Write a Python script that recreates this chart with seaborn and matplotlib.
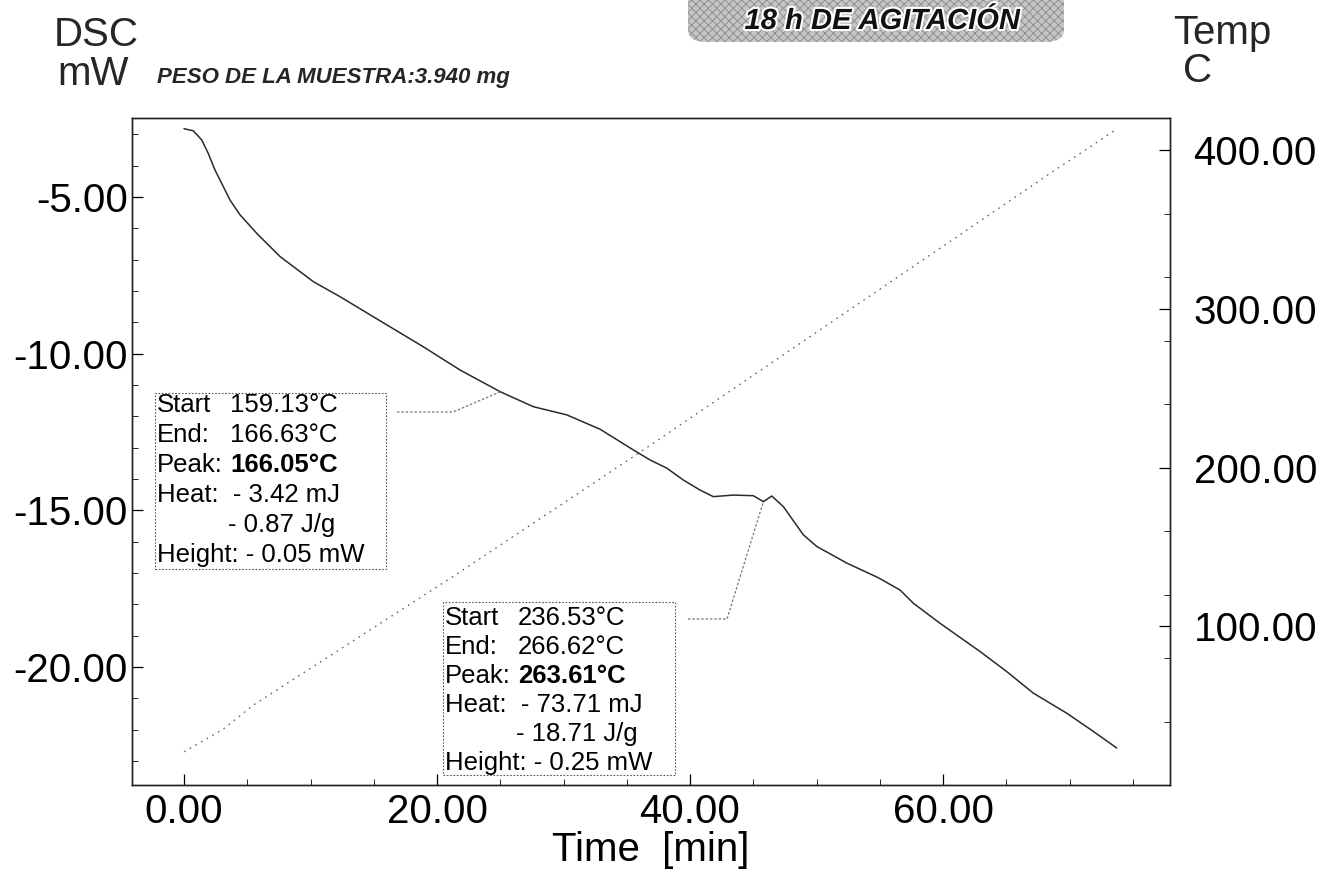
import numpy as np
import pandas as pd
import matplotlib
matplotlib.use("Agg")
import matplotlib.pyplot as plt
import matplotlib.patheffects as pe
from matplotlib.patches import FancyBboxPatch, Rectangle
from matplotlib.ticker import FixedLocator, MultipleLocator
import seaborn as sns

# ---- measured DSC signal (mW) versus time (min) ----
time_dsc = [0.00, 0.74, 1.40, 1.92, 2.45, 2.85, 3.64, 4.43, 5.75, 7.59, 10.22,
            12.33, 14.96, 18.92, 21.82, 24.98, 27.61, 30.25, 32.89, 35.52,
            36.84, 38.16, 39.47, 40.79, 41.84, 43.42, 45.00, 45.80, 46.46,
            47.38, 48.96, 50.02, 52.39, 54.90, 56.60, 57.65, 59.76, 62.92,
            65.03, 67.14, 69.78, 71.88, 73.73]
dsc_mw = [-2.82, -2.89, -3.18, -3.61, -4.14, -4.46, -5.10, -5.57, -6.16, -6.90,
          -7.70, -8.18, -8.82, -9.78, -10.52, -11.21, -11.69, -11.95, -12.41,
          -13.07, -13.39, -13.65, -14.03, -14.35, -14.56, -14.51, -14.53,
          -14.72, -14.54, -14.88, -15.78, -16.15, -16.68, -17.15, -17.54,
          -17.96, -18.60, -19.50, -20.14, -20.83, -21.47, -22.05, -22.58]

# ---- sample temperature (C) versus time (min) ----
time_temp = [0.00, 3.10, 5.48, 21.03, 35.91, 47.91, 68.85, 71.36, 73.73]
temp_c = [20.9, 35.2, 50.3, 130.1, 208.9, 273.9, 387.4, 400.6, 413.2]

# ---- axis ticks ----
x_ticks = [0, 20, 40, 60]
x_tick_labels = ["0.00", "20.00", "40.00", "60.00"]
dsc_ticks = [-5, -10, -15, -20]
dsc_tick_labels = ["-5.00", "-10.00", "-15.00", "-20.00"]
temp_ticks = [100, 200, 300, 400]
temp_tick_labels = ["100.00", "200.00", "300.00", "400.00"]

# ---- peak evaluations ----
peak_times = [25.0, 45.8]
peak_start = ["159.13°C", "236.53°C"]
peak_end = ["166.63°C", "266.62°C"]
peak_peak = ["166.05°C", "263.61°C"]
peak_heat_mj = ["- 3.42 mJ", "- 73.71 mJ"]
peak_heat_jg = ["- 0.87 J/g", "- 18.71 J/g"]
peak_height = ["- 0.05 mW", "- 0.25 mW"]

sample_title = "PESO DE LA MUESTRA:3.940 mg"
banner_title = "18 h DE AGITACIÓN"

sns.set_theme(style="white")
plt.rcParams["font.family"] = ["Liberation Sans", "DejaVu Sans"]
plt.rcParams["hatch.linewidth"] = 0.7

W, H = 1324, 873
fig = plt.figure(figsize=(W / 100, H / 100), dpi=100)
fig.patch.set_facecolor("white")

AX_L, AX_R, AX_T, AX_B = 132, 1170, 118, 785
ax = fig.add_axes([AX_L / W, 1 - AX_B / H, (AX_R - AX_L) / W, (AX_B - AX_T) / H])
ax2 = ax.twinx()

def fx(px):
    return px / W

def fy(py):
    return 1 - py / H

def axx(px):
    return (px - AX_L) / (AX_R - AX_L)

def axy(py):
    return (AX_B - py) / (AX_B - AX_T)

dsc_df = pd.DataFrame({"time": time_dsc, "dsc": dsc_mw})
temp_df = pd.DataFrame({"time": time_temp, "temp": temp_c})

sns.lineplot(data=dsc_df, x="time", y="dsc", ax=ax, color="#2a2a2a",
             linewidth=1.1, sort=False, estimator=None)
sns.lineplot(data=temp_df, x="time", y="temp", ax=ax2, color="#6a6a6a",
             linewidth=1.0, linestyle=(0, (1.2, 3.5)), sort=False, estimator=None)

ax.set_xlim(-4.11, 77.94)
ax.set_ylim(-23.76, -2.48)
ax2.set_ylim(0.0, 420.2)

big = 29
ax.xaxis.set_major_locator(FixedLocator(x_ticks))
ax.set_xticklabels(x_tick_labels, fontsize=big)
ax.xaxis.set_minor_locator(MultipleLocator(5))
ax.yaxis.set_major_locator(FixedLocator(dsc_ticks))
ax.set_yticklabels(dsc_tick_labels, fontsize=big)
ax.yaxis.set_minor_locator(MultipleLocator(1))
ax2.yaxis.set_major_locator(FixedLocator(temp_ticks))
ax2.set_yticklabels(temp_tick_labels, fontsize=big)
ax2.yaxis.set_minor_locator(MultipleLocator(40))

ax.tick_params(axis="x", which="major", direction="in", length=8, width=0.9,
               pad=6, colors="black", top=False, bottom=True)
ax.tick_params(axis="x", which="minor", direction="in", length=4, width=0.7,
               top=False, bottom=True)
ax.tick_params(axis="y", which="major", direction="in", length=8, width=0.9,
               pad=3, left=True, right=False, colors="black")
ax.tick_params(axis="y", which="minor", direction="in", length=4, width=0.7,
               left=True, right=False)
ax2.tick_params(axis="y", which="major", direction="in", length=8, width=0.9,
                pad=17, right=True, left=False, colors="black")
ax2.tick_params(axis="y", which="minor", direction="in", length=4, width=0.7,
                right=True, left=False)

for a in (ax, ax2):
    for sp in a.spines.values():
        sp.set_visible(True)
        sp.set_color("#222222")
        sp.set_linewidth(1.0)

ax.set_xlabel("Time  [min]", fontsize=big, labelpad=0, color="black")
ax.set_ylabel("")
ax2.set_ylabel("")

# axis unit headings
fig.text(fx(96), fy(35), "DSC", fontsize=big, ha="center", va="center")
fig.text(fx(93), fy(74), "mW", fontsize=big, ha="center", va="center")
fig.text(fx(1222), fy(33), "Temp", fontsize=big, ha="center", va="center")
fig.text(fx(1198), fy(71), "C", fontsize=big, ha="center", va="center")

# sample mass heading
fig.text(fx(157), fy(78), sample_title, fontsize=16, fontweight="bold",
         fontstyle="italic", ha="left", va="center")

# banner with grainy grey background
banner = FancyBboxPatch((fx(688), fy(42)), fx(376), fy(-14) - fy(42),
                        boxstyle="round,pad=0,rounding_size=0.014",
                        transform=fig.transFigure, facecolor="#c6c6c6",
                        edgecolor="#909090", hatch="xxxx", linewidth=0,
                        zorder=1)
fig.patches.append(banner)
fig.text(fx(882), fy(21), banner_title, fontsize=21, fontweight="bold",
         fontstyle="italic", ha="center", va="center", color="#111111",
         zorder=3,
         path_effects=[pe.withStroke(linewidth=3, foreground="white")])

# peak evaluation boxes with leader lines
box_px = [(155, 393, 386, 569), (443, 602, 675, 775)]
line_rows = [[405, 435, 465, 495, 525, 555], [618, 647, 676, 705, 734, 763]]
leader_px = [(397, 453, 412), (688, 727, 619)]
box_font = 18.5

inv = ax.transData.inverted()

def px_to_data(px, py):
    return inv.transform(fig.transFigure.transform((fx(px), fy(py))))

for i in range(2):
    l, t, r, b = box_px[i]
    rect = Rectangle((axx(l), axy(b)), axx(r) - axx(l), axy(t) - axy(b),
                     transform=ax.transAxes, facecolor="white",
                     edgecolor="#555555", linewidth=0.8,
                     linestyle=(0, (1.5, 1.5)), zorder=4)
    ax.add_patch(rect)
    rows = line_rows[i]
    c0, c1, c2 = axx(l + 2), axx(l + 75), axx(l + 73)
    kw = dict(transform=ax.transAxes, fontsize=box_font, va="center",
              ha="left", zorder=5, color="black")
    ax.text(c0, axy(rows[0]), "Start", **kw)
    ax.text(c1, axy(rows[0]), peak_start[i], **kw)
    ax.text(c0, axy(rows[1]), "End:", **kw)
    ax.text(c1, axy(rows[1]), peak_end[i], **kw)
    ax.text(c0, axy(rows[2]), "Peak:", **kw)
    ax.text(c1, axy(rows[2]), peak_peak[i], fontweight="bold", **kw)
    ax.text(c0, axy(rows[3]), "Heat:  " + peak_heat_mj[i], **kw)
    ax.text(c2, axy(rows[4]), peak_heat_jg[i], **kw)
    ax.text(c0, axy(rows[5]), "Height: " + peak_height[i], **kw)

    # leader from the box to the peak on the DSC curve
    x0p, x1p, yp = leader_px[i]
    t_peak = peak_times[i]
    y_peak = float(np.interp(t_peak, time_dsc, dsc_mw))
    p0 = px_to_data(x0p, yp)
    p1 = px_to_data(x1p, yp)
    ax.plot([p0[0], p1[0], t_peak], [p0[1], p1[1], y_peak], color="#777777",
            linewidth=0.9, linestyle=(0, (2, 1.5)), zorder=3)

fig.savefig("out.png", dpi=100, facecolor="white")
